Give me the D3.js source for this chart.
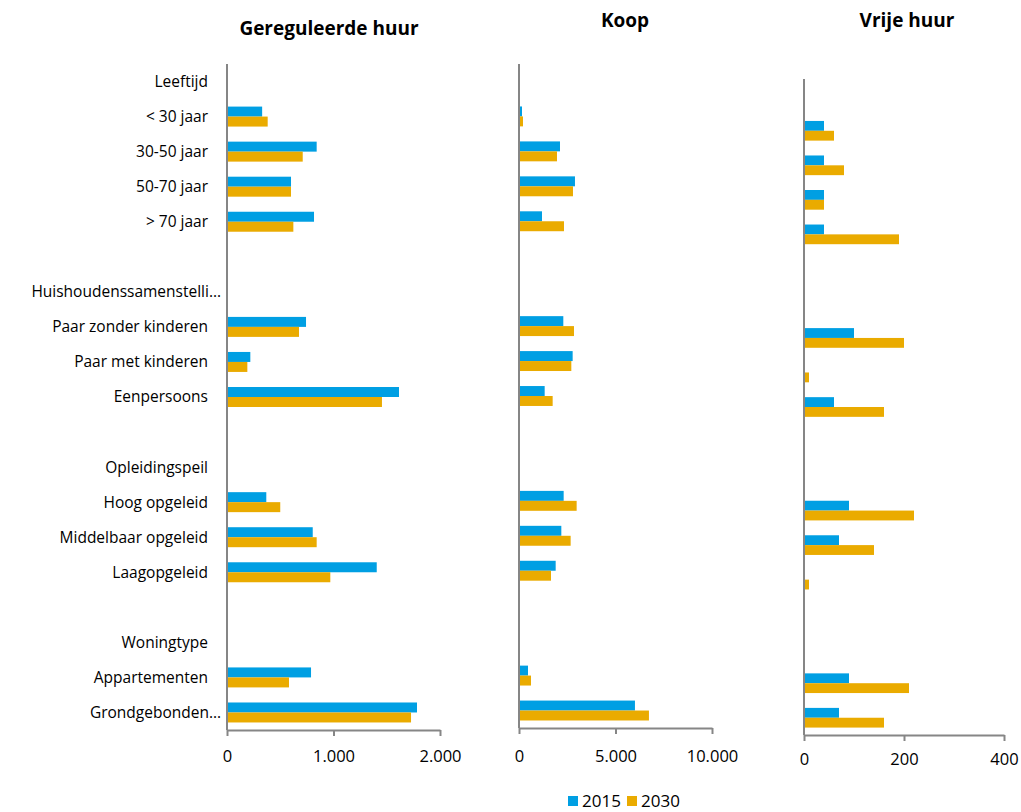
<!DOCTYPE html>
<html><head><meta charset="utf-8">
<script src="https://cdn.jsdelivr.net/npm/d3@7"></script>
<style>body{margin:0;background:#fff}text{font-family:"Open Sans",Lato,sans-serif;fill:#000}</style>
</head><body>
<svg id="c" width="1021" height="812"></svg>
<script>
const categories = ["Leeftijd","< 30 jaar","30-50 jaar","50-70 jaar","> 70 jaar","",
  "Huishoudenssamenstelli…","Paar zonder kinderen","Paar met kinderen","Eenpersoons","",
  "Opleidingspeil","Hoog opgeleid","Middelbaar opgeleid","Laagopgeleid","",
  "Woningtype","Appartementen","Grondgebonden…"];
const seriesNames = ["2015","2030"];
const panelTitles = ["Gereguleerde huur","Koop","Vrije huur"];
// values per category (null = no bar)
const gereguleerde2015 = [null,330,842,601,817,null,null,742,219,1615,null,null,369,805,1406,null,null,789,1784];
const gereguleerde2030 = [null,382,711,601,623,null,null,676,191,1455,null,null,500,842,970,null,null,582,1728];
const koop2015 = [null,155,2124,2900,1191,null,null,2296,2780,1330,null,null,2314,2193,1900,null,null,466,6008];
const koop2030 = [null,207,1968,2797,2331,null,null,2849,2711,1744,null,null,2987,2676,1658,null,null,622,6733];
const vrije2015 = [null,40,40,40,40,null,null,100,0,60,null,null,90,70,0,null,null,90,70];
const vrije2030 = [null,60,80,40,190,null,null,200,10,160,null,null,220,140,10,null,null,210,160];
const tickLabelsG = [[0,"0"],[1000,"1.000"],[2000,"2.000"]];
const tickLabelsK = [[0,"0"],[5000,"5.000"],[10000,"10.000"]];
const tickLabelsV = [[0,"0"],[200,"200"],[400,"400"]];

const colors = {"2015":"#009FE3","2030":"#EAAB00"};
const svg = d3.select("#c");

const panels = [
  {title:panelTitles[0], s:[gereguleerde2015,gereguleerde2030], max:2000, ticks:tickLabelsG, x0:227, x1:440, y0:64, y1:730, ty:28, tx:329, tickY:27},
  {title:panelTitles[1], s:[koop2015,koop2030], max:10000, ticks:tickLabelsK, x0:519, x1:712, y0:64, y1:728, ty:20, tx:625, tickY:29},
  {title:panelTitles[2], s:[vrije2015,vrije2030], max:400, ticks:tickLabelsV, x0:804, x1:1004, y0:79, y1:735, ty:20, tx:907, tickY:25}
];

panels.forEach((p,pi)=>{
  const g = svg.append("g");
  const x = d3.scaleLinear().domain([0,p.max]).range([p.x0,p.x1]);
  const y = d3.scaleBand().domain(d3.range(categories.length)).range([p.y0,p.y1]).paddingInner(0.43).paddingOuter(0.215);
  const ys = d3.scaleBand().domain(seriesNames).range([0,y.bandwidth()]);
  seriesNames.forEach((sn,si)=>{
    g.selectAll(null).data(p.s[si].map((v,i)=>({v,i})).filter(d=>d.v!==null && d.v>0))
      .enter().append("rect")
      .attr("x",x(0)).attr("y",d=>y(d.i)+ys(sn))
      .attr("width",d=>x(d.v)-x(0)).attr("height",ys.bandwidth())
      .attr("fill",colors[sn]);
  });
  g.append("line").attr("x1",x(0)).attr("x2",x(0)).attr("y1",p.y0).attr("y2",p.y1)
    .attr("stroke","#868686").attr("stroke-width",2);
  const ax = d3.axisBottom(x).tickValues(p.ticks.map(t=>t[0])).tickFormat(d=>p.ticks.find(t=>t[0]===d)[1]).tickSize(6).tickSizeOuter(0);
  const axg = g.append("g").attr("transform",`translate(0,${p.y1})`).call(ax);
  axg.select(".domain").attr("stroke","#868686").attr("stroke-width",2);
  axg.selectAll(".tick line").attr("stroke","#868686").attr("stroke-width",2);
  axg.selectAll(".tick text").attr("y",p.tickY).attr("dy","0.32em").style("font-size","16.5px").style("font-family","'Open Sans', sans-serif").attr("fill","#000");
  svg.append("text").attr("x",p.tx).attr("y",p.ty).attr("text-anchor","middle").attr("dy","0.35em")
    .style("font-weight","bold").style("font-size","19px").text(p.title);
  if(pi===0){
    svg.selectAll(null).data(categories).enter().append("text")
      .attr("x",d=>d.endsWith("…")?221:208).attr("y",(d,i)=>y(i)+y.bandwidth()/2)
      .attr("dy","0.35em").attr("text-anchor","end").style("font-size","15.5px").text(d=>d);
  }
});

const lg = svg.append("g");
const legendX = [568,627];
seriesNames.forEach((sn,i)=>{
  lg.append("rect").attr("x",legendX[i]).attr("y",796).attr("width",10).attr("height",10).attr("fill",colors[sn]);
  lg.append("text").attr("x",legendX[i]+14).attr("y",801).attr("dy","0.35em").style("font-size","17px").text(sn);
});
</script>
</body></html>
